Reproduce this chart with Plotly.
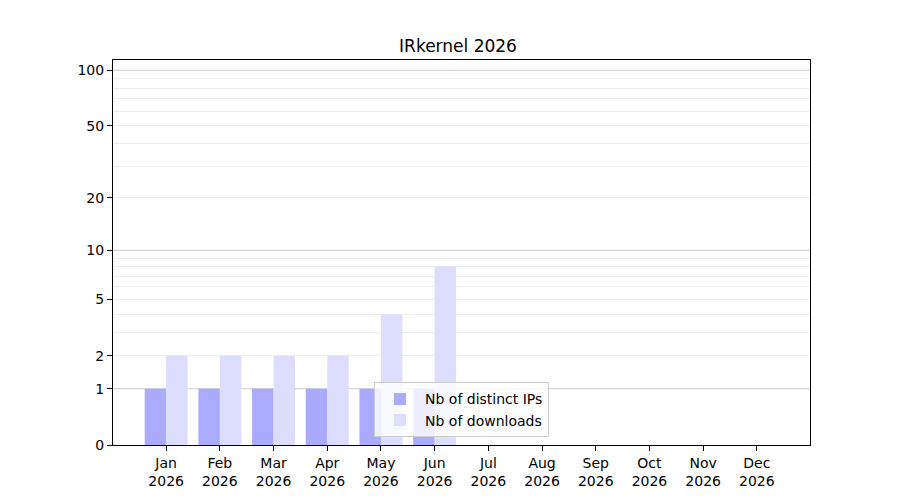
import math
import plotly.graph_objects as go

months = ["Jan", "Feb", "Mar", "Apr", "May", "Jun", "Jul", "Aug", "Sep", "Oct", "Nov", "Dec"]
year = "2026"
distinct_ips = [1, 1, 1, 1, 1, 1, 0, 0, 0, 0, 0, 0]
downloads = [2, 2, 2, 2, 4, 8, 0, 0, 0, 0, 0, 0]

y_ticks = [0, 1, 2, 5, 10, 20, 50, 100]
major_grid = [1, 10, 100]
minor_grid = [2, 3, 4, 5, 6, 7, 8, 9, 20, 30, 40, 50, 60, 70, 80, 90]
y_max = 113.6


def tf(v):
    return math.log10(1 + v)


x = list(range(len(months)))
labels = [f"{m}<br>{year}" for m in months]

fig = go.Figure()
fig.add_trace(go.Bar(x=x, y=[tf(v) for v in distinct_ips], name="Nb of distinct IPs",
                     marker=dict(color="#aaaaff", line=dict(width=0)),
                     customdata=distinct_ips, hovertemplate="%{customdata}"))
fig.add_trace(go.Bar(x=x, y=[tf(v) for v in downloads], name="Nb of downloads",
                     marker=dict(color="#ddddff", line=dict(width=0)),
                     customdata=downloads, hovertemplate="%{customdata}"))

for v in major_grid:
    fig.add_shape(type="line", xref="paper", x0=0, x1=1, yref="y", y0=tf(v), y1=tf(v),
                  line=dict(color="#cccccc", width=1), layer="between")

fig.update_layout(
    width=900, height=500,
    paper_bgcolor="white", plot_bgcolor="white",
    margin=dict(l=105, r=98, t=52, b=63),
    barmode="group", bargap=0.2, bargroupgap=0,
    font=dict(family="DejaVu Sans", size=14, color="black"),
    title=dict(text="IRkernel 2026", x=0.5, xanchor="center", y=1 - 38 / 500, yanchor="middle",
               font=dict(size=17)),
    showlegend=True,
    legend=dict(x=0.5, xanchor="center", y=0.02, yanchor="bottom",
                bgcolor="rgba(255,255,255,0.8)", bordercolor="#cccccc", borderwidth=1,
                font=dict(size=14), tracegroupgap=0, itemwidth=40),
)
fig.update_xaxes(
    range=[-0.99, 11.99], tickmode="array", tickvals=x, ticktext=labels,
    showgrid=False, zeroline=False,
    showline=True, linecolor="black", linewidth=1, mirror=True,
    ticks="outside", ticklen=5, tickcolor="black",
)
fig.update_yaxes(
    range=[0, tf(y_max)], tickmode="array", tickvals=[tf(v) for v in y_ticks],
    ticktext=[str(v) for v in y_ticks],
    showgrid=False, zeroline=False,
    showline=True, linecolor="black", linewidth=1, mirror=True,
    ticks="outside", ticklen=5, tickcolor="black",
    minor=dict(tickmode="array", tickvals=[tf(v) for v in minor_grid], showgrid=True,
               gridcolor="#eeeeee", gridwidth=1, ticks=""),
)

fig.write_html("out.html")
